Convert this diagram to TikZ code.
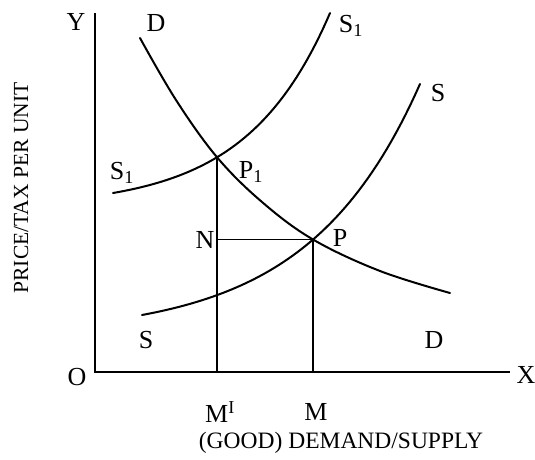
\documentclass[tikz,border=0pt]{standalone}
\usepackage{fontspec}
\setmainfont{Liberation Serif}
\begin{document}
\begin{tikzpicture}[x=1pt,y=-1pt,
  curve/.style={line width=2pt, line cap=round},
  axis/.style={line width=2.2pt},
  guide/.style={line width=1.6pt},
  lbl/.style={inner sep=0pt, font=\fontsize{26}{30}\selectfont},
  title/.style={inner sep=0pt, font=\fontsize{23.5}{28}\selectfont}]
\useasboundingbox (0,0) rectangle (535,460);
% key points
\coordinate (O) at (95,372);
\coordinate (Ytop) at (95,13);
\coordinate (Xend) at (510,372);
\coordinate (P1) at (217,157.2);
\coordinate (P) at (313,239.5);
\coordinate (Nc) at (217,239.5);
\coordinate (Mp) at (217,372);
\coordinate (M) at (313,372);
% axes
\draw[axis] (Ytop) -- (O) -- (Xend);
% guide lines
\draw[guide] (P1) -- (Mp);
\draw[guide] (P) -- (M);
\draw[guide] (Nc) -- (P);
% demand curve D
\draw[curve] plot[smooth, tension=0.6] coordinates {(140,38) (176,100) (217,157.2) (262,202) (313,239.5) (380,271) (450,293)};
% supply curve S1
\draw[curve] plot[domain=113:330, samples=60] (\x, {207.4 - 14.4*exp(0.012*(\x-113))});
% supply curve S
\draw[curve] plot[domain=142:420, samples=60] (\x, {335.6 - 20.6*exp(0.009*(\x-142))});
% labels
\node[lbl] (ly) at (76,22) {Y};
\node[lbl] (lo) at (77,377) {O};
\node[lbl] (lx) at (526,375) {X};
\node[lbl] (ld1) at (156,23) {D};
\node[lbl] (ld2) at (434,340) {D};
\node[lbl] (ls1a) at (351,26) {S\textsubscript{1}};
\node[lbl] (ls1b) at (122,173) {S\textsubscript{1}};
\node[lbl] (lp1) at (251,172) {P\textsubscript{1}};
\node[lbl] (ln) at (205,240) {N};
\node[lbl] (lp) at (340,238) {P};
\node[lbl] (lsa) at (438,93) {S};
\node[lbl] (lsb) at (146,340) {S};
\node[lbl] (lmp) at (220,412) {M\textsuperscript{I}};
\node[lbl] (lm) at (316,412) {M};
\node[title] (tx) at (341,443) {(GOOD) DEMAND/SUPPLY};
\node[title, font=\fontsize{21.5}{26}\selectfont, rotate=90] (ty) at (21,188) {PRICE/TAX PER UNIT};
\end{tikzpicture}
\end{document}
